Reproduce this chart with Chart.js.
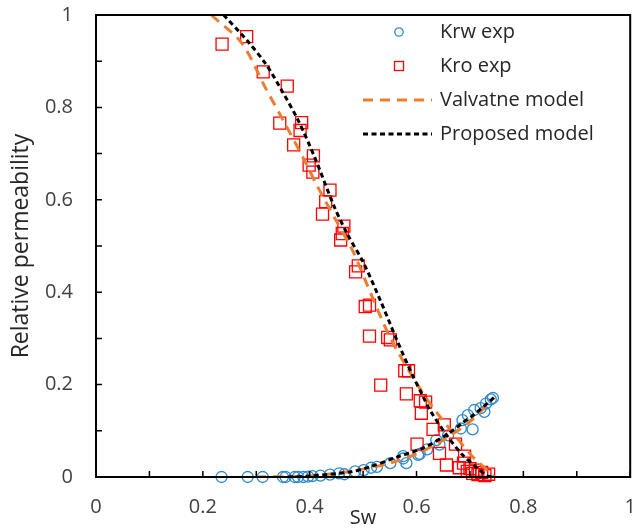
<!DOCTYPE html>
<html><head><meta charset="utf-8">
<script src="https://cdn.jsdelivr.net/npm/chart.js@4.4.1/dist/chart.umd.min.js"></script>
<style>html,body{margin:0;padding:0;background:#fff;}#wrap{width:640px;height:530px;}</style>
</head><body><div id="wrap"><canvas id="c" width="640" height="530"></canvas></div>
<script>
// ---- data ----
const krwSw  = [0.235,0.284,0.312,0.350,0.355,0.372,0.378,0.388,0.397,0.405,0.420,0.438,0.455,0.465,0.485,0.501,0.515,0.526,0.551,0.575,0.581,0.575,0.603,0.606,0.620,0.637,0.643,0.659,0.683,0.686,0.696,0.705,0.708,0.720,0.727,0.730,0.739,0.743];
const krwVal = [0.000,0.000,0.000,0.000,0.000,0.000,0.000,0.000,0.001,0.002,0.003,0.005,0.008,0.006,0.012,0.015,0.020,0.022,0.030,0.040,0.030,0.045,0.048,0.050,0.060,0.080,0.070,0.090,0.105,0.123,0.134,0.103,0.145,0.149,0.141,0.159,0.168,0.171];

const kroSw  = [0.236,0.282,0.313,0.358,0.344,0.385,0.382,0.370,0.407,0.399,0.406,0.438,0.430,0.424,0.464,0.461,0.458,0.491,0.486,0.512,0.504,0.512,0.546,0.551,0.533,0.578,0.585,0.581,0.607,0.617,0.609,0.631,0.652,0.601,0.643,0.673,0.690,0.656,0.680,0.688,0.695,0.700,0.705,0.710,0.715,0.722,0.728,0.735];
const kroVal = [0.937,0.953,0.877,0.846,0.766,0.767,0.750,0.719,0.695,0.675,0.660,0.621,0.596,0.569,0.543,0.527,0.513,0.457,0.444,0.372,0.369,0.305,0.302,0.297,0.199,0.230,0.230,0.180,0.165,0.162,0.138,0.103,0.113,0.071,0.051,0.071,0.045,0.026,0.020,0.030,0.012,0.018,0.008,0.015,0.005,0.010,0.003,0.006];

const valvOilSw   = [0.216,0.273,0.316,0.350,0.390,0.415,0.449,0.480,0.504,0.538,0.563,0.612,0.637,0.674,0.705,0.739,0.745];
const valvOilKr   = [1.000,0.939,0.845,0.773,0.686,0.628,0.556,0.491,0.426,0.333,0.275,0.181,0.141,0.087,0.044,0.008,0.000];
const valvWatSw   = [0.300,0.400,0.450,0.500,0.550,0.600,0.650,0.700,0.745];
const valvWatKr   = [0.000,0.002,0.008,0.017,0.030,0.050,0.080,0.120,0.172];

const propOilSw   = [0.239,0.285,0.319,0.347,0.378,0.409,0.446,0.470,0.501,0.532,0.563,0.591,0.612,0.625,0.656,0.686,0.711,0.730,0.740];
const propOilKr   = [1.000,0.942,0.892,0.838,0.773,0.693,0.585,0.527,0.463,0.383,0.297,0.224,0.175,0.145,0.091,0.048,0.022,0.004,0.000];
const propWatSw   = [0.360,0.400,0.476,0.513,0.563,0.613,0.656,0.686,0.711,0.735,0.745];
const propWatKr   = [0.000,0.002,0.011,0.022,0.043,0.063,0.091,0.117,0.138,0.162,0.172];

const xTickLabels = ['0','0.2','0.4','0.6','0.8','1'];
const yTickLabels = ['0','0.2','0.4','0.6','0.8','1'];
const seriesNames = ['Krw exp','Kro exp','Valvatne model','Proposed model'];

// ---- build ----
const pts = (xs, ys) => xs.map((x,i)=>({x:x,y:ys[i]}));
const curve = (xa,ya,xb,yb) => pts(xa,ya).concat([{x:null,y:null}], pts(xb,yb));
const FONT = "'Open Sans',sans-serif";

const datasets = [
  {label:seriesNames[0], type:'scatter', data:pts(krwSw,krwVal), pointStyle:'circle', pointRadius:5.5,
   borderColor:'#2E88CC', backgroundColor:'rgba(0,0,0,0)', pointBorderWidth:1.3, showLine:false, clip:false, order:3},
  {label:seriesNames[1], type:'scatter', data:pts(kroSw,kroVal), pointStyle:'rect', pointRadius:8.5,
   borderColor:'#FF0000', backgroundColor:'rgba(0,0,0,0)', pointBorderWidth:1.3, showLine:false, clip:false, order:2},
  {label:seriesNames[2], type:'line', data:curve(valvOilSw,valvOilKr,valvWatSw,valvWatKr), borderColor:'#ED7D31',
   borderWidth:3, borderDash:[10,7], pointRadius:0, spanGaps:false, tension:0.3, fill:false, order:1},
  {label:seriesNames[3], type:'line', data:curve(propOilSw,propOilKr,propWatSw,propWatKr), borderColor:'#000000',
   borderWidth:3, borderDash:[5,3.5], pointRadius:0, spanGaps:false, tension:0.3, fill:false, order:0}
];

const framePlugin = {
  id:'frame',
  afterDraw(chart){
    const {ctx, chartArea:a, scales:{x,y}} = chart;
    ctx.save();
    ctx.strokeStyle='#000'; ctx.lineWidth=2;
    ctx.strokeRect(a.left, a.top, a.right-a.left, a.bottom-a.top);
    ctx.lineWidth=1.5;
    ctx.beginPath();
    x.ticks.forEach(t=>{const p=x.getPixelForValue(t.value); ctx.moveTo(p,a.bottom); ctx.lineTo(p,a.bottom-6);});
    y.ticks.forEach(t=>{const p=y.getPixelForValue(t.value); ctx.moveTo(a.left,p); ctx.lineTo(a.left+6,p);});
    ctx.stroke();
    // legend
    const lx0 = 363, lx1 = 432, mx = 399, tx = 440;
    const rows = [32, 66, 100, 134];
    ctx.font = '20px ' + FONT; ctx.fillStyle='#262626'; ctx.textBaseline='middle'; ctx.textAlign='left';
    datasets.forEach((d,i)=>{
      const yy = rows[i];
      ctx.setLineDash([]);
      if (i===0){ ctx.strokeStyle=d.borderColor; ctx.lineWidth=1.3; ctx.beginPath(); ctx.arc(mx,yy,4.2,0,Math.PI*2); ctx.stroke(); }
      else if (i===1){ ctx.strokeStyle=d.borderColor; ctx.lineWidth=1.3; ctx.strokeRect(mx-4.5,yy-4.5,9,9); }
      else { ctx.strokeStyle=d.borderColor; ctx.lineWidth=3; ctx.setLineDash(d.borderDash); ctx.beginPath(); ctx.moveTo(lx0,yy); ctx.lineTo(lx1,yy); ctx.stroke(); }
      ctx.setLineDash([]);
      ctx.fillText(d.label, tx, yy);
    });
    ctx.restore();
  }
};

new Chart(document.getElementById('c'), {
  data:{datasets},
  options:{
    responsive:false, animation:false, maintainAspectRatio:false,
    layout:{padding:{top:15,right:4,left:0,bottom:0}},
    plugins:{legend:{display:false}, tooltip:{enabled:false}},
    scales:{
      x:{type:'linear', min:0, max:1, grid:{display:false}, border:{display:false},
         ticks:{stepSize:0.1, autoSkip:false, maxRotation:0, padding:10, color:'#404040', font:{family:FONT,size:20},
           callback:(v)=>{const k=Math.round(v*10); return k%2===0 ? xTickLabels[k/2] : '';}},
         title:{display:true, text:'Sw', color:'#262626', font:{family:FONT,size:20}, padding:{top:0,bottom:0}},
         afterFit:(s)=>{s.height=53; s.paddingLeft=0; s.paddingRight=0;}},
      y:{type:'linear', min:0, max:1, grid:{display:false}, border:{display:false},
         ticks:{stepSize:0.1, autoSkip:false, padding:15, color:'#404040', font:{family:FONT,size:20},
           callback:(v)=>{const k=Math.round(v*10); return k%2===0 ? yTickLabels[k/2] : '';}},
         title:{display:true, text:'Relative permeability', color:'#262626', font:{family:FONT,size:23}, padding:{top:8,bottom:0}},
         afterFit:(s)=>{s.width=96; s.paddingTop=0; s.paddingBottom=0;}}
    }
  },
  plugins:[framePlugin]
});
</script></body></html>
